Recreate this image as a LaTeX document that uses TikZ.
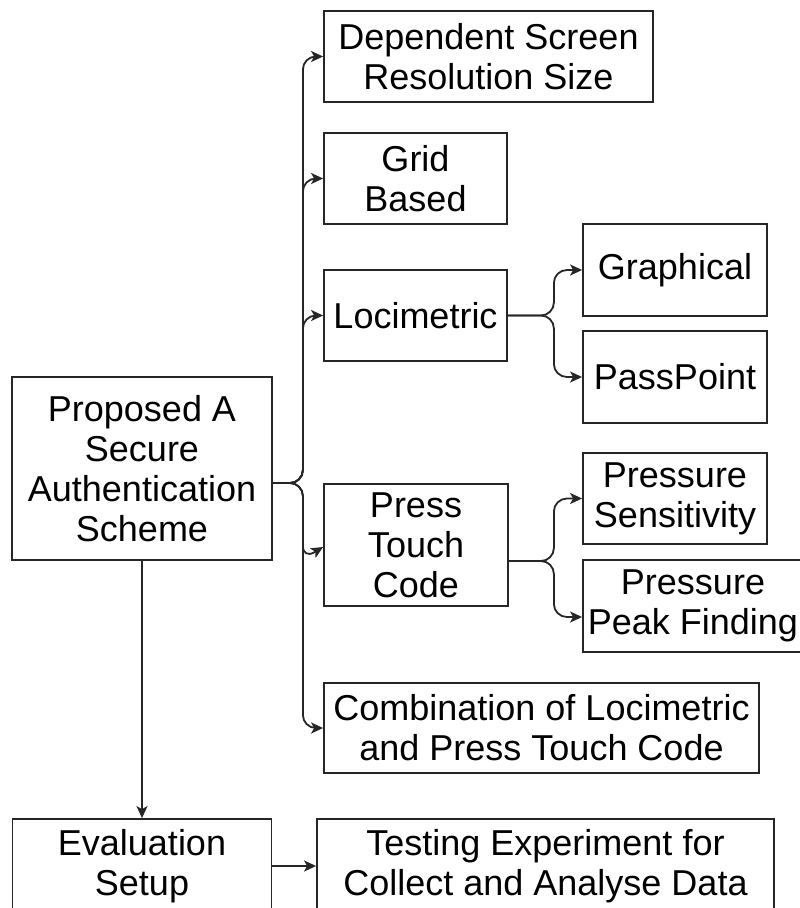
\documentclass[tikz,border=0pt]{standalone}
\usepackage{fontspec}
\setmainfont{Liberation Sans}
\usetikzlibrary{arrows.meta}

\begin{document}
\begin{tikzpicture}[x=1pt, y=-1pt,
    box/.style={rectangle, draw=black!85, line width=1.8pt, align=center, inner sep=0pt,
      font=\fontsize{36}{40}\selectfont},
    edge/.style={-{Stealth[length=12pt, width=11pt, inset=3pt]}, line width=1.8pt, draw=black!85,
      rounded corners=13pt}]

  \useasboundingbox (0,0) rectangle (800,908);

  % Define nodes
  \node[box, minimum width=260pt, minimum height=183pt] (main) at (142,468.5) {Proposed A\\Secure\\Authentication\\Scheme};

  % Scheme --> parts
  \node[box, minimum width=329pt, minimum height=91pt] (dss) at (488.5,56.5) {Dependent Screen\\Resolution Size};
  \node[box, minimum width=183pt, minimum height=91pt] (grid) at (415.5,178.5) {Grid\\Based};
  \node[box, minimum width=183pt, minimum height=91pt] (loci) at (415.5,315.5) {Locimetric};
  \node[box, minimum width=184pt, minimum height=122pt] (ptc) at (416,545) {Press\\Touch\\Code};
  \node[box, minimum width=435pt, minimum height=90pt] (comb) at (541.5,728) {Combination of Locimetric\\and Press Touch Code};

  % Locimetric -->
  \node[box, minimum width=184pt, minimum height=92pt] (graph) at (675,270) {Graphical};
  \node[box, minimum width=184pt, minimum height=92pt] (pass) at (675,377) {PassPoint};

  % Press Touch Code -->
  \node[box, minimum width=184pt, minimum height=91pt] (sens) at (675,498.5) {Pressure\\Sensitivity};
  \node[box, minimum width=220pt, minimum height=92pt] (peak) at (693,606) {Pressure\\Peak Finding};

  % Evaluation
  \node[box, minimum width=259pt, minimum height=94pt] (eval) at (142,866) {Evaluation\\Setup};
  \node[box, minimum width=457pt, minimum height=94pt] (test) at (545.5,866) {Testing Experiment for\\Collect and Analyse Data};

  \coordinate (mout) at ([yshift=-14.5pt]main.east);
  \coordinate (pout) at ([yshift=-16pt]ptc.east);

  \draw[edge] (mout) -- ++(30,0) |- (dss);
  \draw[edge] (mout) -- ++(30,0) |- (grid);
  \draw[edge] (mout) -- ++(30,0) |- (loci);
  \draw[edge] (mout) -- ++(30,0) -- ++(0,76) -- ([yshift=-2pt]ptc.west);
  \draw[edge] (mout) -- ++(30,0) |- (comb);

  \draw[edge] (loci.east) -- ++(46,0) |- (graph);
  \draw[edge] (loci.east) -- ++(46,0) |- (pass);

  \draw[edge] (pout) -- ++(45,0) |- (sens);
  \draw[edge] (pout) -- ++(45,0) |- ([yshift=-11pt]peak.west);

  \draw[edge] (main) -- (eval);
  \draw[edge] (eval) -- (test);

\end{tikzpicture}
\end{document}
